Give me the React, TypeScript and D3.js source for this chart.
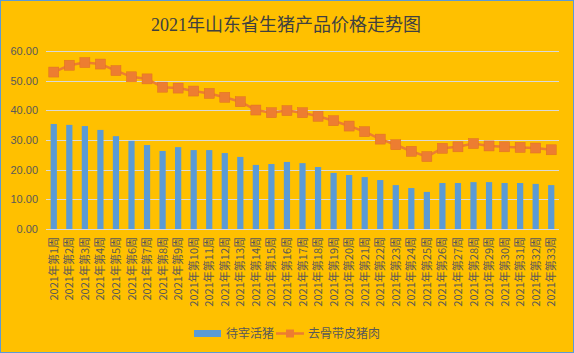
import { useEffect, useRef } from "react";
import * as d3 from "d3";

const WEEKS = d3.range(1, 34).map((w) => `2021年第${w}周`);

// 待宰活猪 (bars)
const LIVE_PIG = [
  35.4, 35.1, 34.7, 33.4, 31.3, 29.7, 28.3, 26.3, 27.6, 26.6, 26.6, 25.6, 24.3,
  21.6, 21.9, 22.6, 22.2, 20.9, 18.9, 18.2, 17.5, 16.5, 14.8, 13.8, 12.5, 15.5,
  15.5, 15.8, 15.8, 15.5, 15.5, 15.2, 14.8,
];

// 去骨带皮猪肉 (line)
const PORK = [
  52.9, 55.2, 56.1, 55.6, 53.4, 51.3, 50.6, 47.8, 47.5, 46.5, 45.7, 44.4, 42.9,
  40.1, 39.2, 39.9, 39.2, 38.0, 36.5, 34.7, 32.8, 30.3, 28.4, 26.2, 24.4, 27.2,
  27.7, 28.8, 28.0, 27.7, 27.5, 27.3, 26.7,
];

const Y_TICKS = [0, 10, 20, 30, 40, 50, 60];

const W = 574;
const H = 353;
const BG = "#FFC000";
const BLUE = "#5B9BD5";
const ORANGE = "#ED7D31";
const TXT = "#595959";
const CJK = "'Noto Sans CJK SC', 'Noto Sans', sans-serif";

export default function App() {
  const svgRef = useRef<SVGSVGElement>(null);

  useEffect(() => {
    document.body.style.margin = "0";
    if (!svgRef.current) return;
    const svg = d3.select(svgRef.current);
    svg.selectAll("*").remove();

    const x = d3.scaleBand().domain(WEEKS).range([46, 559]).paddingInner(0.6).paddingOuter(0.3);
    const y = d3.scaleLinear().domain([0, 60]).range([229, 51]);

    svg.append("rect").attr("x", 0.5).attr("y", 0.5).attr("width", W - 1).attr("height", H - 1)
      .attr("fill", BG).attr("stroke", BLUE).attr("stroke-width", 1);

    // title
    svg.append("text")
      .attr("x", 286).attr("y", 31)
      .attr("text-anchor", "middle")
      .attr("font-family", "'Liberation Serif', 'Noto Sans CJK SC', serif")
      .attr("font-size", 18)
      .attr("fill", "#404040")
      .text("2021年山东省生猪产品价格走势图");

    // grid
    svg.append("g").selectAll("line").data(Y_TICKS).join("line")
      .attr("x1", 46).attr("x2", 559)
      .attr("y1", (d) => Math.round(y(d)) + 0.5).attr("y2", (d) => Math.round(y(d)) + 0.5)
      .attr("stroke", "#D9D9D9").attr("stroke-width", 1);

    // y labels
    svg.append("g").selectAll("text").data(Y_TICKS).join("text")
      .attr("x", 38).attr("y", (d) => y(d) + 4)
      .attr("text-anchor", "end")
      .attr("font-family", "'Liberation Sans', Arial, sans-serif")
      .attr("font-size", 11)
      .attr("fill", TXT)
      .text((d) => d.toFixed(2));

    // bars
    svg.append("g").selectAll("rect").data(LIVE_PIG).join("rect")
      .attr("x", (_, i) => x(WEEKS[i])!)
      .attr("width", x.bandwidth())
      .attr("y", (d) => y(d))
      .attr("height", (d) => y(0) - y(d))
      .attr("fill", BLUE);

    // line
    const cx = (i: number) => x(WEEKS[i])! + x.bandwidth() / 2;
    const line = d3.line<number>().x((_, i) => cx(i)).y((d) => y(d));
    svg.append("path").datum(PORK)
      .attr("d", line)
      .attr("fill", "none")
      .attr("stroke", ORANGE)
      .attr("stroke-width", 2.5);

    svg.append("g").selectAll("rect").data(PORK).join("rect")
      .attr("x", (_, i) => cx(i) - 5)
      .attr("y", (d) => y(d) - 5)
      .attr("width", 10).attr("height", 10)
      .attr("fill", ORANGE)
      .attr("stroke", "#E07020").attr("stroke-width", 0.5);

    // x labels
    svg.append("g").selectAll("text").data(WEEKS).join("text")
      .attr("transform", (d) => `translate(${x(d)! + x.bandwidth() / 2 + 4},237) rotate(-90)`)
      .attr("text-anchor", "end")
      .attr("font-family", CJK)
      .attr("font-size", 11)
      .attr("fill", TXT)
      .text((d) => d);

    // legend
    const lg = svg.append("g").attr("font-family", CJK).attr("font-size", 12).attr("fill", TXT);
    lg.append("rect").attr("x", 194).attr("y", 330).attr("width", 27).attr("height", 7).attr("fill", BLUE);
    lg.append("text").attr("x", 226).attr("y", 338).text("待宰活猪");
    lg.append("line").attr("x1", 276).attr("x2", 304).attr("y1", 333.5).attr("y2", 333.5)
      .attr("stroke", ORANGE).attr("stroke-width", 2.5);
    lg.append("rect").attr("x", 286).attr("y", 329.5).attr("width", 8).attr("height", 8).attr("fill", ORANGE);
    lg.append("text").attr("x", 308).attr("y", 338).text("去骨带皮猪肉");
  }, []);

  return (
    <svg ref={svgRef} width={W} height={H} style={{ display: "block" }} />
  );
}
